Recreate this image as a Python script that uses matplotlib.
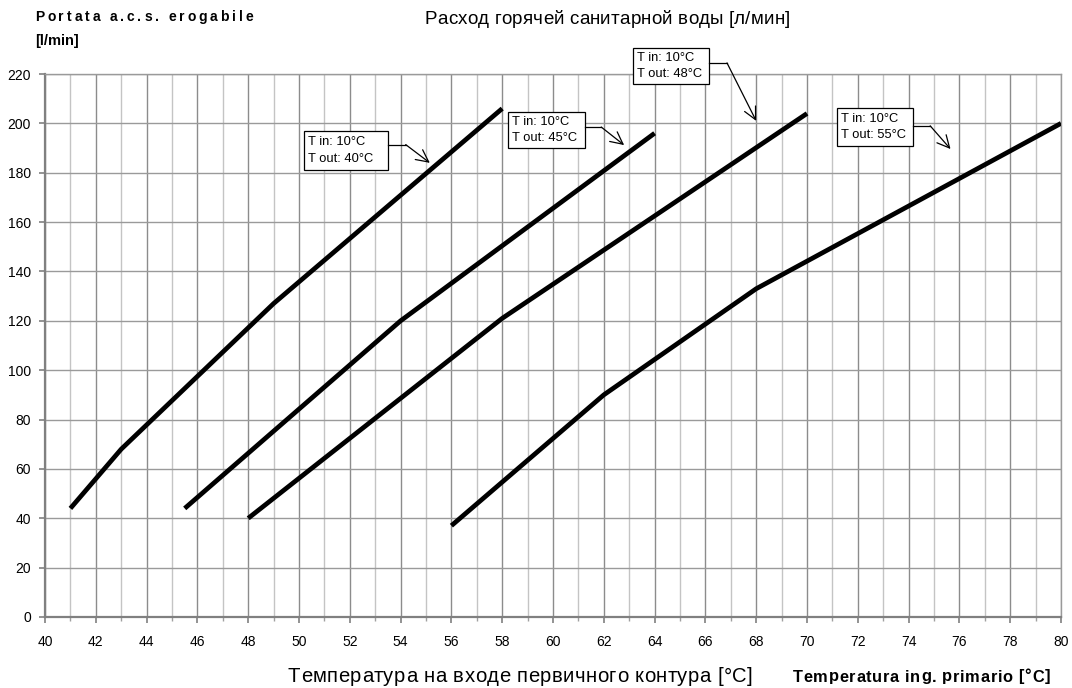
import matplotlib
matplotlib.use('Agg')
import matplotlib.pyplot as plt
from matplotlib.patches import Rectangle
from matplotlib.ticker import MultipleLocator
from matplotlib.font_manager import FontProperties

plt.rcParams['font.family'] = ['Liberation Sans', 'DejaVu Sans']

# curve data: inlet primary temperature [°C] -> flow [l/min]
t_out_labels = ['40°C', '45°C', '48°C', '55°C']
x_40 = [41, 43, 49, 58]
y_40 = [44, 68, 127, 206]
x_45 = [45.5, 54, 64]
y_45 = [44, 120, 196]
x_48 = [48, 58, 70]
y_48 = [40, 121, 204]
x_55 = [56, 62, 68, 80]
y_55 = [37, 90, 133, 200]

# annotation layout: box (x0, y0, x1, y1), leader start y, corner x, arrow tip (x, y)
boxes = [
    ((50.2, 181, 53.5, 197), 191.4, 54.2, (55.15, 184)),
    ((58.23, 190, 61.26, 204.6), 198.5, 61.9, (62.8, 191.2)),
    ((63.15, 216, 66.14, 230.5), 224.5, 66.85, (68.0, 201)),
    ((71.18, 190.8, 74.17, 206.2), 199, 74.85, (75.65, 189.6)),
]

W, H = 1072, 688
fig = plt.figure(figsize=(W / 100, H / 100), dpi=100)
ax = fig.add_axes([45/W, 1 - 617/H, (1061 - 45)/W, (617 - 74)/H])


def spread_text(s, x0, x1, y, size, weight='normal'):
    # draw text letter by letter so it fills the pixel span x0..x1 (letter-spaced look)
    renderer = fig.canvas.get_renderer()
    prop = FontProperties(family=['Liberation Sans'], size=size, weight=weight)
    widths = [renderer.get_text_width_height_descent(c, prop, ismath=False)[0] for c in s]
    gap = (x1 - x0 - sum(widths)) / (len(s) - 1)
    x = x0
    for c, w in zip(s, widths):
        fig.text(x / W, 1 - y / H, c, fontproperties=prop, ha='left', va='center')
        x += w + gap


# grid
ax.set_xlim(40, 80)
ax.set_ylim(0, 220)
ax.xaxis.set_major_locator(MultipleLocator(2))
ax.xaxis.set_minor_locator(MultipleLocator(1))
ax.yaxis.set_major_locator(MultipleLocator(20))
ax.grid(True, which='major', axis='x', color='#8c8c8c', linewidth=1.0)
ax.grid(True, which='minor', axis='x', color='#c4c4c4', linewidth=1.0)
ax.grid(True, which='major', axis='y', color='#9a9a9a', linewidth=1.0)
ax.set_axisbelow(True)

for side in ['top', 'right']:
    ax.spines[side].set_color('#9a9a9a')
    ax.spines[side].set_linewidth(1.0)
for side in ['left', 'bottom']:
    ax.spines[side].set_color('#808080')
    ax.spines[side].set_linewidth(1.6)

ax.tick_params(axis='both', which='major', direction='out', length=4, width=1.2,
               color='#808080', labelsize=10, pad=6)
ax.tick_params(axis='x', which='minor', direction='out', length=3, width=1.0, color='#a0a0a0')
ax.tick_params(axis='x', which='major', pad=9)

for xs, ys in [(x_40, y_40), (x_45, y_45), (x_48, y_48), (x_55, y_55)]:
    ax.plot(xs, ys, color='black', linewidth=3.4, solid_capstyle='butt', zorder=3)

# callout boxes
for (box, ly, cx, tip), lab in zip(boxes, t_out_labels):
    x0, y0, x1, y1 = box
    ax.add_patch(Rectangle((x0, y0), x1 - x0, y1 - y0, facecolor='white',
                           edgecolor='black', linewidth=0.9, clip_on=False, zorder=4))
    ax.text(x0 + 0.15, (y0 + y1) / 2, 'T in: 10°C\nT out: ' + lab, fontsize=9.3,
            ha='left', va='center', linespacing=1.45, zorder=5, clip_on=False)
    ax.plot([x1, cx], [ly, ly], color='black', linewidth=0.9, clip_on=False, zorder=4)
    ax.annotate('', xy=tip, xytext=(cx, ly),
                arrowprops=dict(arrowstyle='->', color='black', lw=0.9,
                                shrinkA=0, shrinkB=0, mutation_scale=22),
                annotation_clip=False, zorder=4)

# titles and axis labels
spread_text('Portata a.c.s. erogabile', 35, 253, 17, 10, 'bold')
fig.text(35/W, 1 - 41/H, '[l/min]', fontsize=10.5, fontweight='bold', ha='left', va='center')
spread_text('Расход горячей санитарной воды [л/мин]', 425, 790, 20, 13.5)
spread_text('Температура на входе первичного контура [°C]', 288, 753, 677, 14.6)
spread_text('Temperatura ing. primario [°C]', 793, 1050, 677, 11.8, 'bold')

fig.savefig('out.png', dpi=100)
